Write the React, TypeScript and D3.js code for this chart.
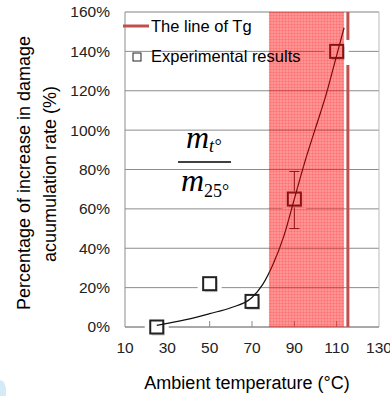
import React from 'react';
import * as d3 from 'd3';

// axis ticks
const tempTicks = [10, 30, 50, 70, 90, 110, 130];
const pctTicks = [0, 0.2, 0.4, 0.6, 0.8, 1.0, 1.2, 1.4, 1.6];

// experimental results (squares)
const expTemps = [25, 50, 70, 90, 110];
const expValues = [0, 0.22, 0.13, 0.65, 1.4];
// error bar at 90 °C
const errTemp = 90;
const errRange = [0.5, 0.79];

// fitted curve
const fitTemps = [25, 30, 40, 50, 60, 70, 75, 80, 85, 90, 95, 100, 105, 110, 113.5];
const fitValues = [0.008, 0.018, 0.04, 0.068, 0.098, 0.15, 0.215, 0.32, 0.46, 0.65, 0.84, 1.01, 1.18, 1.38, 1.52];

// Tg shading + line
const tgBand = [78, 113.5];
const tgTemp = 115.3;
const tgSegments = [[1.6, 1.458], [1.331, 0]];

const W = 390;
const H = 396;
const sans = "'Liberation Sans', Arial, sans-serif";
const serif = "'Liberation Serif', 'Times New Roman', serif";

export default function App() {
  const x = d3.scaleLinear().domain([10, 130]).range([125, 379]);
  const y = d3.scaleLinear().domain([0, 1.6]).range([327, 12]);

  const line = d3
    .line<number>()
    .x((d, i) => x(fitTemps[i]))
    .y((d) => y(d))
    .curve(d3.curveMonotoneX);

  const pts = expTemps.map((t, i) => ({ t, v: expValues[i] }));
  const sq = 13;

  return (
    <svg width={W} height={H} style={{ position: 'absolute', left: 0, top: 0 }}>
      <defs>
        <pattern id="hatch" width={3} height={3} patternUnits="userSpaceOnUse">
          <rect width={3} height={3} fill="rgba(255,0,0,0.42)" />
          <rect width={3} height={1} fill="rgba(255,0,0,0.12)" />
          <rect width={1} height={3} fill="rgba(255,0,0,0.12)" />
        </pattern>
      </defs>
      <rect width={W} height={H} fill="#fff" />
      <path d="M0,380 L4,382 L6,388 L6,396 L0,396 Z" fill="#d3eaf7" />

      {/* gridlines */}
      {pctTicks.map((p) => (
        <line key={p} x1={x(10)} x2={x(130)} y1={y(p)} y2={y(p)} stroke="#8c8c8c" strokeWidth={1} />
      ))}
      {/* plot border */}
      <line x1={x(10)} x2={x(130)} y1={y(1.6)} y2={y(1.6)} stroke="#bbb" />
      <line x1={x(130)} x2={x(130)} y1={y(1.6)} y2={y(0)} stroke="#bbb" />
      <line x1={x(10)} x2={x(10)} y1={y(1.6)} y2={y(0)} stroke="#8c8c8c" />
      <line x1={x(10)} x2={x(130)} y1={y(0)} y2={y(0)} stroke="#8c8c8c" />
      {tempTicks.slice(1, -1).map((t) => (
        <line key={t} x1={x(t)} x2={x(t)} y1={y(0)} y2={y(0) - 6} stroke="#8c8c8c" />
      ))}

      {/* halos behind squares */}
      {pts.map((p) => (
        <rect key={'h' + p.t} x={x(p.t) - 12} y={y(p.v) - 10} width={24} height={20} fill="#fff" />
      ))}

      {/* error bar */}
      <g stroke="#222" strokeWidth={1}>
        <line x1={x(errTemp)} x2={x(errTemp)} y1={y(errRange[1])} y2={y(0.69)} />
        <line x1={x(errTemp)} x2={x(errTemp)} y1={y(0.61)} y2={y(errRange[0])} />
        <line x1={x(errTemp) - 5} x2={x(errTemp) + 5} y1={y(errRange[1])} y2={y(errRange[1])} />
        <line x1={x(errTemp) - 5} x2={x(errTemp) + 5} y1={y(errRange[0])} y2={y(errRange[0])} />
      </g>

      {/* squares */}
      {pts.map((p) => (
        <g key={'s' + p.t}>
          <rect x={x(p.t) - sq / 2 + 1.5} y={y(p.v) - sq / 2 + 2} width={sq} height={sq} fill="#cfcfcf" />
          <rect x={x(p.t) - sq / 2} y={y(p.v) - sq / 2} width={sq} height={sq} fill="#fff" stroke="#222" strokeWidth={2} />
        </g>
      ))}
      {/* fitted curve */}
      <path d={line(fitValues) || ''} fill="none" stroke="#111" strokeWidth={1.2} />

      {/* Tg band */}
      <rect x={x(tgBand[0])} y={y(1.6)} width={x(tgBand[1]) - x(tgBand[0])} height={y(0) - y(1.6)} fill="url(#hatch)" />
      {tgSegments.map((s, i) => (
        <line key={i} x1={x(tgTemp)} x2={x(tgTemp)} y1={y(s[0])} y2={y(s[1])} stroke="#c0504d" strokeWidth={3} />
      ))}

      {/* legend */}
      <line x1={123} x2={149} y1={26} y2={26} stroke="#c0504d" strokeWidth={3} />
      <text x={151} y={31.5} fontFamily={sans} fontSize={16.5} fill="#000">The line of Tg</text>
      <rect x={133} y={53} width={8} height={8} fill="#fff" stroke="#222" strokeWidth={1} />
      <text x={151} y={62} fontFamily={sans} fontSize={16.5} fill="#000">Experimental results</text>

      {/* fraction */}
      <g fontFamily={serif} fontStyle="italic" fill="#000">
        <text x={186} y={148} fontSize={32}>m<tspan fontSize={18} dy={4}>t°</tspan></text>
        <line x1={178} x2={231} y1={162} y2={162} stroke="#000" strokeWidth={1.6} />
        <text x={181} y={191} fontSize={32}>m<tspan fontSize={18} fontStyle="normal" dy={6}>25°</tspan></text>
      </g>

      {/* tick labels */}
      {pctTicks.map((p) => (
        <text key={p} x={110} y={y(p)} dy="0.35em" textAnchor="end" fontFamily={sans} fontSize={15.5} fill="#222">
          {Math.round(p * 100) + '%'}
        </text>
      ))}
      {tempTicks.map((t) => (
        <text key={t} x={x(t)} y={353} textAnchor="middle" fontFamily={sans} fontSize={15.5} fill="#222">
          {t}
        </text>
      ))}

      {/* axis titles */}
      <text x={247} y={389} textAnchor="middle" fontFamily={sans} fontSize={18} fill="#000">
        Ambient temperature (°C)
      </text>
      <text transform="translate(30,173) rotate(-90)" textAnchor="middle" fontFamily={sans} fontSize={18} fill="#000">
        Percentage of increase in damage
      </text>
      <text transform="translate(56,174) rotate(-90)" textAnchor="middle" fontFamily={sans} fontSize={18} fill="#000">
        acuumulation rate (%)
      </text>
    </svg>
  );
}
